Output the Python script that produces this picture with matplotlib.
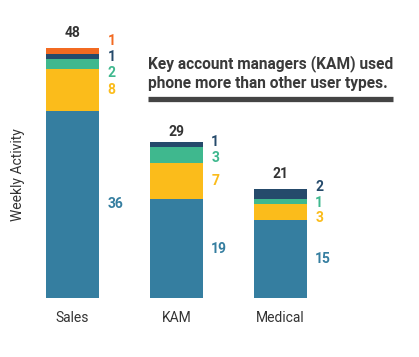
import matplotlib
matplotlib.use("Agg")
import matplotlib.pyplot as plt
import numpy as np

plt.rcParams['font.family'] = ['Roboto', 'DejaVu Sans']

# data
categories = ['Sales', 'KAM', 'Medical']
seg_blue = [36, 19, 15]
seg_yellow = [8, 7, 3]
seg_green = [2, 3, 1]
seg_navy = [1, 1, 2]
seg_orange = [1, 0, 0]
totals = [48, 29, 21]

colors = ['#357ea0', '#fbbc1b', '#3fb88e', '#254a6b', '#f26a21']
series = [seg_blue, seg_yellow, seg_green, seg_navy, seg_orange]

W, H = 419, 357
fig = plt.figure(figsize=(W / 100, H / 100), dpi=100)
px = 5.2  # pixels per unit
ax = fig.add_axes([20.5 / W, (H - 298) / H, 395 / W, 55 * px / H])
ax.set_xlim(-0.5, 3.3)
ax.set_ylim(0, 55)

x = np.arange(len(categories))
bottom = np.zeros(len(categories))
for vals, c in zip(series, colors):
    ax.bar(x, vals, width=0.51, bottom=bottom, color=c, linewidth=0)
    bottom += np.array(vals)


def spread(mids, gap):
    # group labels that would overlap and center each group on its mean
    groups = [[i] for i in range(len(mids))]
    changed = True
    while changed:
        changed = False
        pos = []
        for g in groups:
            m = np.mean([mids[i] for i in g])
            n = len(g)
            pos.append([m + (n - 1) / 2 * gap - k * gap for k in range(n)])
        for j in range(len(groups) - 1):
            if pos[j][-1] - pos[j + 1][0] < gap - 1e-9:
                groups[j] = groups[j] + groups[j + 1]
                del groups[j + 1]
                changed = True
                break
    out = []
    for p in pos:
        out += p
    return out


for i in range(len(categories)):
    b = 0
    mids, labs, cols = [], [], []
    for vals, c in zip(series, colors):
        v = vals[i]
        if v > 0:
            mids.append(b + v / 2)
            labs.append(str(v))
            cols.append(c)
        b += v
    # top-down ordering
    order = list(range(len(mids)))[::-1]
    ys = spread([mids[k] for k in order], 3.0)
    for k, y in zip(order, ys):
        ax.annotate(labs[k], (x[i] + 0.255, y), xytext=(6, 0), textcoords='offset points',
                    ha='left', va='center', fontsize=10, fontweight='bold', color=cols[k])
    ax.annotate(str(totals[i]), (x[i], totals[i]), xytext=(0, 11), textcoords='offset points',
                ha='center', va='center', fontsize=10, fontweight='bold', color='#333333')

ax.set_xticks(x)
ax.set_xticklabels(categories, fontsize=10, color='#333333')
ax.tick_params(axis='x', length=0, pad=9)
ax.set_yticks([])
for s in ax.spines.values():
    s.set_visible(False)

fig.text(18 / W, 1 - 175 / H, 'Weekly Activity', rotation=90, ha='center', va='center',
         fontsize=10, color='#333333')

fig.text(148 / W, 1 - 73 / H, 'Key account managers (KAM) used\nphone more than other user types.',
         ha='left', va='center', fontsize=11.2, fontweight='bold', color='#3a3a3a',
         linespacing=1.36)
fig.add_artist(plt.Line2D([148 / W, 393 / W], [1 - 98.5 / H, 1 - 98.5 / H],
                          color='#444444', linewidth=3.8, solid_capstyle='butt'))

fig.savefig('out.png', dpi=100)
